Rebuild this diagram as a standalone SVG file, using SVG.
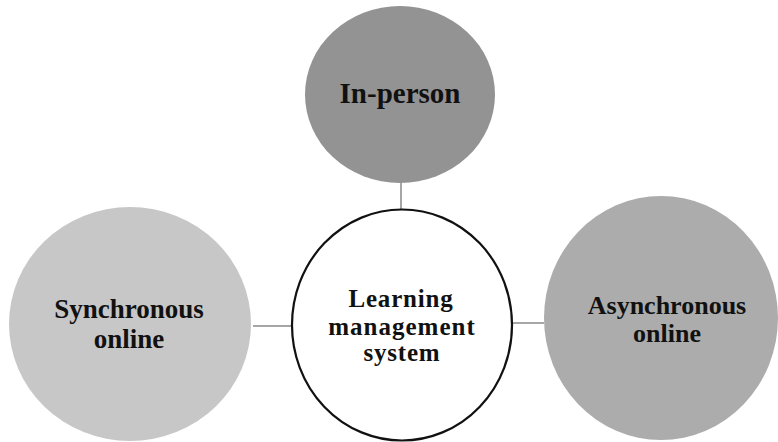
<svg xmlns="http://www.w3.org/2000/svg" width="778" height="442" viewBox="0 0 778 442">
  <style>
    .label { font-family: "Liberation Serif", "Times New Roman", serif; font-weight: bold; fill: #111; text-anchor: middle; }
    .link { stroke: #a6a6a6; stroke-width: 2; fill: none; }
  </style>
  <rect width="778" height="442" fill="#ffffff"/>

  <!-- links from the hub to each delivery mode -->
  <g id="connectors">
    <line class="link" x1="401" y1="183" x2="401" y2="210"/>
    <line class="link" x1="253" y1="326" x2="292" y2="326"/>
    <line class="link" x1="513" y1="323" x2="544" y2="323"/>
  </g>

  <g id="in-person">
    <ellipse cx="400" cy="94.5" rx="95" ry="88.5" fill="#939393"/>
    <text class="label" x="400" y="103" font-size="29">In-person</text>
  </g>

  <g id="synchronous-online">
    <ellipse cx="130" cy="324" rx="121" ry="117" fill="#c7c7c7"/>
    <text class="label" x="129" y="318" font-size="27">Synchronous</text>
    <text class="label" x="129" y="348" font-size="27">online</text>
  </g>

  <g id="asynchronous-online">
    <ellipse cx="661" cy="318" rx="117" ry="122" fill="#acacac"/>
    <text class="label" x="667" y="314" font-size="26">Asynchronous</text>
    <text class="label" x="667" y="342" font-size="26">online</text>
  </g>

  <g id="learning-management-system">
    <ellipse cx="402" cy="325" rx="110" ry="115.5" fill="#ffffff" stroke="#111" stroke-width="2.2"/>
    <text class="label" x="401" y="307" font-size="25" letter-spacing="0.8">Learning</text>
    <text class="label" x="402" y="335" font-size="25" letter-spacing="1">management</text>
    <text class="label" x="402" y="361" font-size="25" letter-spacing="0.8">system</text>
  </g>
</svg>
